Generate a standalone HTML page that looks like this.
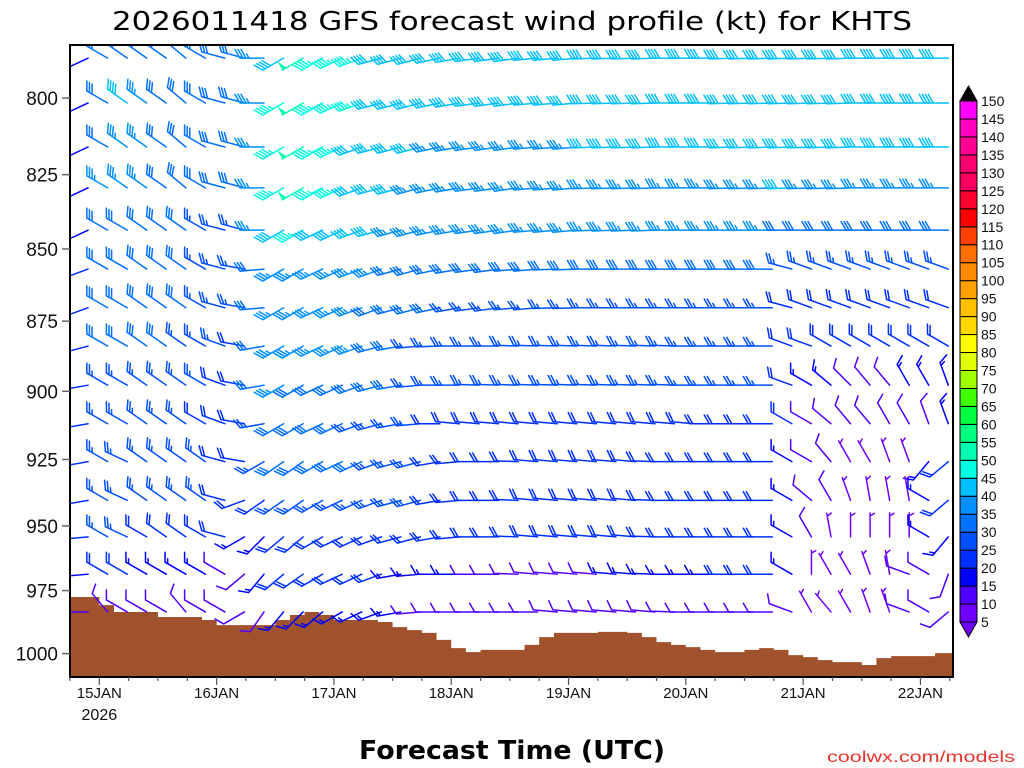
<!DOCTYPE html>
<html><head><meta charset="utf-8"><style>
html,body{margin:0;padding:0;background:#fff;}
svg{display:block;font-family:"Liberation Sans","DejaVu Sans",sans-serif;}
</style></head><body>
<svg id="chart" width="1024" height="768" viewBox="0 0 1024 768" xmlns="http://www.w3.org/2000/svg">
<rect width="1024" height="768" fill="#fff"/>
<text x="512" y="30" text-anchor="middle" font-size="26" textLength="800" lengthAdjust="spacingAndGlyphs" font-family="DejaVu Sans, sans-serif">2026011418 GFS forecast wind profile (kt) for KHTS</text>
<defs><clipPath id="plotclip"><rect x="70" y="45" width="883" height="632"/></clipPath></defs>
<g id="terrain" clip-path="url(#plotclip)"></g>
<g id="barbs" clip-path="url(#plotclip)"></g>
<rect x="70" y="45" width="883" height="632" fill="none" stroke="#000" stroke-width="2"/>
<g id="yaxis"></g>
<g id="xaxis"></g>
<g id="colorbar"></g>
<text x="512" y="759" text-anchor="middle" font-size="26" font-weight="bold" textLength="306" lengthAdjust="spacingAndGlyphs" font-family="DejaVu Sans, sans-serif">Forecast Time (UTC)</text>
<text x="1015" y="762" text-anchor="end" font-size="16" fill="#e8342c" textLength="188" lengthAdjust="spacingAndGlyphs">coolwx.com/models</text>
</svg>
<script>
const rowPressures=[787.3,801.6,815.9,829.4,843.6,856.9,870.3,883.8,897.8,911.8,925.8,940.3,954.2,968.6,983.4];
const pressureTicks=[800,825,850,875,900,925,950,975,1000];
const dayLabels=["15JAN","16JAN","17JAN","18JAN","19JAN","20JAN","21JAN","22JAN"];
const dayHours=[6,30,54,78,102,126,150,174];
const surfaceP=[977.5,977.5,980.7,983.4,983.4,983.4,985.4,985.4,985.4,986.6,988.6,988.6,988.6,988.6,986.6,984.6,983.4,984.6,986.6,986.6,986.6,987.4,989.4,990.6,991.7,994.5,997.8,999.4,998.5,998.5,998.5,996.5,993.4,991.7,991.7,991.7,991.3,991.3,991.7,993.4,995.4,996.5,997.4,998.5,999.4,999.4,998.5,997.8,998.5,1000.6,1001.4,1002.6,1003.4,1003.4,1004.6,1001.8,1001.0,1001.0,1001.0,999.8,999.8];
const dirs=[
[245,300,305,305,305,310,300,285,285,270,240,240,240,245,250,255,255,255,258,260,262,262,262,265,265,265,268,268,268,268,270,270,270,268,268,268,268,268,268,268,270,270,270,270,270],
[245,300,305,305,305,310,300,285,285,270,240,240,240,245,250,255,255,255,258,260,262,262,262,265,265,265,268,268,268,268,270,270,270,268,268,268,268,268,268,268,270,270,270,270,270],
[245,300,305,305,305,310,300,285,285,270,240,240,240,245,250,255,255,255,258,260,262,262,262,265,265,265,268,268,268,268,270,270,270,268,268,268,268,268,268,268,270,270,270,270,270],
[245,300,305,305,305,310,300,285,285,270,240,240,240,245,250,255,255,255,258,260,262,262,262,265,265,265,268,268,268,268,270,270,270,268,268,268,268,268,268,268,270,270,270,270,270],
[245,300,300,305,305,305,300,285,285,270,240,240,245,245,250,255,255,255,258,260,262,262,262,265,265,265,268,268,268,268,270,270,270,270,270,270,270,270,270,270,270,270,270,270,270],
[250,300,300,305,305,305,300,285,280,265,240,240,245,245,250,250,255,255,258,260,262,262,265,265,268,268,270,270,270,270,270,270,270,270,270,270,285,290,290,290,290,290,290,290,290],
[250,300,300,305,305,305,300,285,280,265,240,240,245,245,250,250,255,255,258,260,262,262,265,265,268,268,270,270,270,270,270,270,270,270,270,270,285,290,290,290,290,290,290,290,290],
[255,300,300,305,305,305,300,290,280,260,240,240,245,245,250,255,260,265,268,270,270,270,272,272,272,272,272,272,272,272,272,270,270,270,270,270,290,290,300,300,300,300,300,300,300],
[260,300,300,305,305,305,300,290,280,260,240,240,245,245,250,255,260,265,270,270,272,272,272,272,272,272,272,272,272,272,272,270,270,270,270,270,290,300,310,315,320,320,330,330,340],
[260,300,300,305,305,305,300,290,280,260,240,240,245,245,250,255,260,265,270,275,275,275,275,275,275,275,275,275,275,275,275,275,270,270,270,270,300,300,310,320,320,330,330,340,340],
[260,300,295,305,305,305,305,285,280,240,235,235,240,245,245,250,255,255,260,265,270,270,272,275,275,275,275,275,275,272,270,270,270,270,270,270,300,300,320,330,330,340,340,220,230],
[260,300,295,305,305,305,305,285,250,235,235,235,240,245,245,250,255,255,260,265,270,270,272,275,275,275,275,275,275,272,270,270,270,270,270,270,300,310,330,340,350,350,350,300,230],
[265,300,295,300,305,305,300,285,240,225,230,230,240,245,245,250,255,255,260,265,270,270,272,275,275,275,275,275,275,272,270,270,270,270,270,270,300,330,350,360,360,360,360,300,220],
[265,300,300,300,300,300,300,300,230,220,230,235,240,245,245,250,260,265,270,270,270,270,272,275,275,275,275,275,275,272,270,270,270,270,270,270,300,360,330,330,340,350,290,300,200],
[270,320,300,300,300,320,300,300,240,215,220,225,230,240,245,250,260,265,270,270,270,270,270,270,275,275,275,275,275,275,272,270,270,270,270,270,290,330,320,330,340,340,290,300,230]];
const spds=[
[15,30,30,30,30,30,30,30,30,35,40,50,45,45,45,40,40,40,40,40,40,40,40,40,40,40,40,40,40,40,40,40,40,40,40,40,40,40,40,40,40,40,40,40,40],
[15,30,40,35,30,30,30,30,30,35,45,50,45,45,45,40,40,40,40,40,40,40,40,40,40,40,40,40,40,40,40,40,40,40,40,40,40,40,40,40,40,40,40,40,40],
[15,30,35,35,30,30,30,30,30,35,45,50,45,45,40,40,40,40,35,35,35,35,35,35,35,35,40,40,40,40,40,40,40,40,40,40,40,40,40,40,40,40,40,40,40],
[15,35,35,35,30,30,30,30,30,35,45,50,45,45,40,40,40,35,35,35,35,35,35,35,35,35,35,35,35,35,35,35,35,35,35,35,40,35,35,35,35,35,35,35,35],
[15,30,30,30,30,30,25,25,25,35,40,45,40,40,40,40,35,35,35,35,35,35,35,35,35,35,35,35,35,35,35,35,35,35,35,35,30,30,30,30,30,30,30,30,30],
[20,30,30,30,30,30,25,25,25,30,35,35,35,35,35,35,30,30,30,30,30,30,30,30,30,30,30,30,30,30,30,30,30,30,30,30,25,25,25,25,25,25,25,25,25],
[20,30,30,30,30,30,25,25,25,30,35,35,35,35,35,30,30,30,30,25,25,25,25,25,25,25,25,25,25,25,25,25,25,25,25,25,20,20,20,20,20,20,20,20,20],
[20,30,30,30,30,25,25,25,20,30,35,35,35,35,35,30,30,25,25,25,25,25,25,25,25,25,25,25,25,25,25,25,25,25,25,25,20,20,20,20,20,20,20,20,20],
[20,25,25,25,25,25,25,20,20,30,35,30,30,30,30,30,30,25,25,25,25,25,25,25,25,25,25,25,25,25,25,25,25,25,25,25,20,15,15,10,10,10,15,15,15],
[20,25,25,25,25,25,20,20,20,25,30,30,30,30,25,25,25,25,20,20,20,20,20,20,20,20,20,20,20,20,20,20,20,20,20,20,20,10,10,10,10,10,10,10,15],
[20,25,25,25,25,25,25,20,20,25,30,30,30,30,30,25,25,25,20,20,20,20,20,20,20,20,20,20,20,20,20,20,20,20,20,20,15,10,10,5,5,5,5,15,20],
[20,25,25,25,25,25,25,20,20,20,25,25,25,25,25,25,25,25,20,20,20,20,20,20,20,20,20,20,20,20,20,20,20,20,20,20,15,10,10,5,5,5,5,15,20],
[20,25,25,20,20,20,20,20,15,15,20,20,20,20,20,20,20,20,20,20,20,20,20,20,20,20,20,20,20,20,20,20,20,20,20,20,15,10,5,5,5,5,5,15,15],
[15,20,20,15,15,15,15,10,10,15,20,20,20,20,20,20,15,15,15,15,10,10,10,10,10,10,10,15,15,15,15,15,15,20,20,20,15,5,5,5,5,5,10,10,10],
[10,10,10,10,10,10,10,10,10,10,15,15,15,15,15,15,15,10,10,10,10,10,10,10,10,10,10,10,10,10,10,10,10,10,10,10,10,5,5,5,5,5,10,10,10]];
const cbLevels=[5,10,15,20,25,30,35,40,45,50,55,60,65,70,75,80,85,90,95,100,105,110,115,120,125,130,135,140,145,150];
const cbColors=["#7000ff","#5000ff","#0000ff","#0030ff","#0050ff","#0070ff","#0090ff","#00c0ff","#00ffe0","#00ffb0","#00ff80","#00ff40","#40ff00","#a0ff00","#e0ff00","#ffff00","#ffd800","#ffc000","#ffa000","#ff8c00","#ff7000","#ff4000","#ff0000","#ff0030","#ff0060","#ff0070","#ff0090","#ff00c0","#ff00ff"];

const NS="http://www.w3.org/2000/svg";
function yOf(p){return 98+2490*Math.log(p/800);}
function xOf(h){return 70+h*117.3/24;}
function mk(tag,attrs,parent){const e=document.createElementNS(NS,tag);for(const k in attrs)e.setAttribute(k,attrs[k]);parent.appendChild(e);return e;}
function colorFor(s){for(let i=cbLevels.length-1;i>=0;i--){if(s>=cbLevels[i])return cbColors[Math.min(i,cbColors.length-1)];}return cbColors[0];}

const tg=document.getElementById('terrain');
let d="M"+xOf(0)+" 680";
for(let i=0;i<surfaceP.length;i++){const x0=xOf(i*3),x1=xOf((i+1)*3),y=yOf(surfaceP[i]);d+=" L"+x0+" "+y+" L"+x1+" "+y;}
d+=" L"+xOf(surfaceP.length*3)+" 680 Z";
const tp=mk('path',{d:d,fill:'#a0522d'},tg);



const bg=document.getElementById('barbs');
const colHours=[];for(let i=0;i<45;i++)colHours.push(3.7+4*i);
for(let r=0;r<rowPressures.length;r++){
  for(let c=0;c<colHours.length;c++){
    const sx=xOf(colHours[c]),sy=yOf(rowPressures[r]);
    const dir=dirs[r][c]*Math.PI/180,spd=spds[r][c];
    const ux=Math.sin(dir),uy=-Math.cos(dir);
    const px=-uy,py=ux;
    const bx=0.5*ux+0.866*px,by=0.5*uy+0.866*py;
    const L=24,col=colorFor(spd);
    const g=mk('g',{stroke:col,'stroke-width':1.5,fill:col,'stroke-linecap':'round'},bg);
    
    
    const tx=sx+ux*L,ty=sy+uy*L;
    let pd="M"+sx+" "+sy+" L"+tx+" "+ty;
    let s=Math.round(spd/5)*5,pos=0;
    while(s>=50){const ax=tx-ux*pos,ay=ty-uy*pos;const cx=tx-ux*(pos+5),cy=ty-uy*(pos+5);
      mk('path',{d:"M"+ax+" "+ay+" L"+(ax+px*10)+" "+(ay+py*10)+" L"+cx+" "+cy+" Z",stroke:'none'},g);pos+=7;s-=50;}
    while(s>=10){const ax=tx-ux*pos,ay=ty-uy*pos;pd+=" M"+ax+" "+ay+" l"+(bx*10)+" "+(by*10);pos+=3;s-=10;}
    if(s>=5){if(pos===0)pos=3;const ax=tx-ux*pos,ay=ty-uy*pos;pd+=" M"+ax+" "+ay+" l"+(bx*5)+" "+(by*5);}
    mk('path',{d:pd,fill:'none'},g);
  }
}

const ya=document.getElementById('yaxis');
for(const p of pressureTicks){const y=yOf(p);
  mk('line',{x1:62,x2:70,y1:y,y2:y,stroke:'#666','stroke-width':1.5},ya);
  const t=mk('text',{x:58,y:y+7,'text-anchor':'end','font-size':19,fill:'#111'},ya);
  
  
  t.textContent=p;}
const xa=document.getElementById('xaxis');
for(let h=0;h<=180;h+=6){const x=xOf(h);const major=(h-6)%24===0;
  mk('line',{x1:x,x2:x,y1:677,y2:major?685:681,stroke:'#555','stroke-width':1.2},xa);}
for(let i=0;i<dayLabels.length;i++){const x=xOf(dayHours[i]);
  const t=mk('text',{x:x,y:698,'text-anchor':'middle','font-size':15,fill:'#111'},xa);
  
  
  t.textContent=dayLabels[i];}
const yr=mk('text',{x:xOf(6),y:720,'text-anchor':'middle','font-size':16,fill:'#111'},xa);


yr.textContent="2026";

const cb=document.getElementById('colorbar');
const cbTop=101,cbBot=622,bh=(cbBot-cbTop)/(cbLevels.length-1);
for(let i=0;i<cbColors.length;i++){const y1=cbBot-(i+1)*bh;
  const r=mk('rect',{x:960,y:y1,width:17,height:bh,fill:cbColors[i],stroke:'#000','stroke-width':1},cb);
  
  }
mk('path',{d:"M960 "+cbTop+" L977 "+cbTop+" L968.5 86 Z",fill:'#000',stroke:'#000'},cb);
mk('path',{d:"M960 "+cbBot+" L977 "+cbBot+" L968.5 637 Z",fill:cbColors[0],stroke:'#000'},cb);
for(let i=0;i<cbLevels.length;i++){const y=cbBot-i*bh;
  const t=mk('text',{x:981,y:y+5,'font-size':14,fill:'#111'},cb);
  
  
  t.textContent=cbLevels[i];}
</script>
</body></html>
